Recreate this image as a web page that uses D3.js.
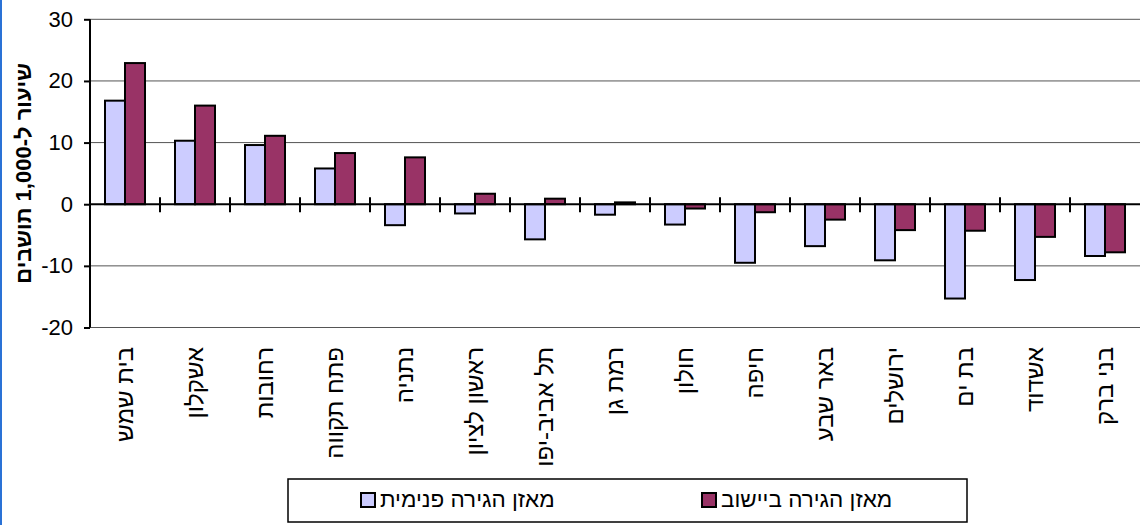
<!DOCTYPE html>
<html>
<head>
<meta charset="utf-8">
<script src="https://cdn.jsdelivr.net/npm/d3@7"></script>
<style>
  html, body { margin: 0; padding: 0; background: #fff; }
  svg { display: block; font-family: "Liberation Sans", Arial, sans-serif; }
</style>
</head>
<body>
<svg id="chart" width="1140" height="525"></svg>
<script>
const categories = ["בית שמש", "אשקלון", "רחובות", "פתח תקווה", "נתניה", "ראשון לציון", "תל אביב-יפו", "רמת גן", "חולון", "חיפה", "באר שבע", "ירושלים", "בת ים", "אשדוד", "בני ברק"];
const internalBalance = [16.8, 10.3, 9.6, 5.8, -3.4, -1.5, -5.7, -1.7, -3.3, -9.5, -6.8, -9.1, -15.3, -12.3, -8.4];
const localityBalance = [22.9, 16.0, 11.1, 8.3, 7.6, 1.7, 0.9, 0.3, -0.7, -1.3, -2.5, -4.2, -4.3, -5.3, -7.8];
const seriesNames = ["מאזן הגירה פנימית", "מאזן הגירה ביישוב"];
const seriesColors = ["#ccccff", "#993366"];
const yTicks = [-20, -10, 0, 10, 20, 30];
const yTitle = "שיעור ל-1,000 תושבים";

const svg = d3.select("#chart");

// left blue border
svg.append("line").attr("x1", 1).attr("x2", 1).attr("y1", 0).attr("y2", 525)
  .attr("stroke", "#2a72d6").attr("stroke-width", 2);

const x0 = d3.scaleBand().domain(categories).range([90, 1140]).paddingInner(0).paddingOuter(0);
const x1 = d3.scaleBand().domain([0, 1]).range([15, 55]);
const y = d3.scaleLinear().domain([-20, 30]).range([327.5, 19.3]);

// gridlines
svg.append("g").selectAll("line").data(yTicks.filter(d => d !== 0)).join("line")
  .attr("x1", 90).attr("x2", 1140)
  .attr("y1", d => y(d)).attr("y2", d => y(d))
  .attr("stroke", "#555").attr("stroke-width", 1);

// bars
const data = categories.map((c, i) => ({ c, vals: [internalBalance[i], localityBalance[i]] }));
const groups = svg.append("g").selectAll("g").data(data).join("g")
  .attr("transform", d => `translate(${x0(d.c)},0)`);
groups.selectAll("rect").data(d => d.vals.map((v, k) => ({ v, k }))).join("rect")
  .attr("x", d => x1(d.k))
  .attr("width", x1.bandwidth())
  .attr("y", d => Math.min(y(d.v), y(0)))
  .attr("height", d => Math.abs(y(d.v) - y(0)))
  .attr("fill", d => seriesColors[d.k])
  .attr("stroke", "#000").attr("stroke-width", 2);

// zero axis
svg.append("line").attr("x1", 90).attr("x2", 1140).attr("y1", y(0)).attr("y2", y(0))
  .attr("stroke", "#000").attr("stroke-width", 2);
// category boundary ticks
svg.append("g").selectAll("line").data(categories.slice(1)).join("line")
  .attr("x1", d => x0(d)).attr("x2", d => x0(d))
  .attr("y1", y(0) - 7).attr("y2", y(0) + 8)
  .attr("stroke", "#000").attr("stroke-width", 2);

// y axis
const yAxis = d3.axisLeft(y).tickValues(yTicks).tickSize(6).tickPadding(11).tickFormat(d => String(d));
const ga = svg.append("g").attr("transform", "translate(90,0)").call(yAxis);
ga.select(".domain").attr("stroke", "#000").attr("stroke-width", 2).attr("d", `M0,${y(30)}V${y(-20)}`);
ga.selectAll(".tick line").attr("stroke", "#000").attr("stroke-width", 2);
ga.selectAll(".tick text").attr("font-size", 22).attr("fill", "#000")
  .attr("font-family", "Liberation Sans, Arial, sans-serif");

// y title
svg.append("text").attr("transform", `translate(23,${(y(30) + y(-20)) / 2}) rotate(-90)`)
  .attr("text-anchor", "middle").attr("dy", "0.35em")
  .attr("font-size", 22).attr("font-weight", "bold").text(yTitle);

// category labels
svg.append("g").selectAll("text").data(categories).join("text")
  .attr("transform", d => `translate(${x0(d) + x0.bandwidth() / 2},347) rotate(-90)`)
  .attr("text-anchor", "end").attr("dy", "0.35em")
  .attr("font-size", 24).text(d => d);

// legend
const lg = svg.append("g");
lg.append("rect").attr("x", 288).attr("y", 479).attr("width", 679).attr("height", 43)
  .attr("fill", "#fff").attr("stroke", "#000").attr("stroke-width", 1.5);
const legendX = [361, 702];
seriesNames.forEach((n, k) => {
  lg.append("rect").attr("x", legendX[k]).attr("y", 493).attr("width", 14).attr("height", 14)
    .attr("fill", seriesColors[k]).attr("stroke", "#000").attr("stroke-width", 2);
  lg.append("text").attr("x", legendX[k] + 19).attr("y", 507)
    .attr("font-size", 22.5).attr("text-anchor", "start").text(n);
});
</script>
</body>
</html>
